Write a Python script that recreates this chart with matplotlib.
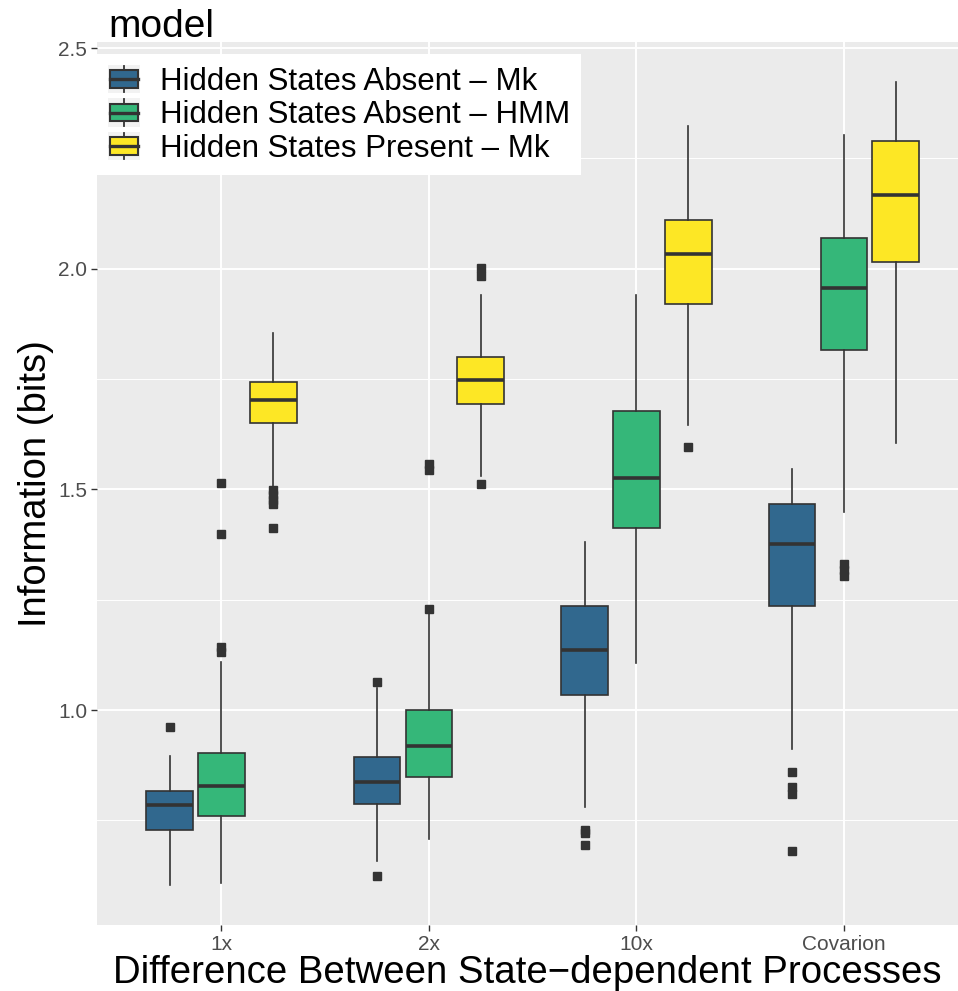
import matplotlib
matplotlib.use("Agg")
import matplotlib.pyplot as plt
from matplotlib.legend_handler import HandlerBase
from matplotlib.lines import Line2D
from matplotlib.patches import Patch, Rectangle
from matplotlib.ticker import MultipleLocator

plt.rcParams["font.family"] = ["Liberation Sans", "DejaVu Sans"]

categories = ["1x", "2x", "10x", "Covarion"]
models = [
    "Hidden States Absent \u2013 Mk",
    "Hidden States Absent \u2013 HMM",
    "Hidden States Present \u2013 Mk",
]
colors = ["#31688E", "#35B779", "#FDE725"]

# box statistics, one list per model (order = categories)
mk_whislo = [0.604, 0.657, 0.781, 0.911]
mk_q1 = [0.728, 0.788, 1.034, 1.237]
mk_med = [0.784, 0.838, 1.136, 1.376]
mk_q3 = [0.816, 0.894, 1.235, 1.467]
mk_whishi = [0.895, 1.050, 1.382, 1.547]
mk_fliers = [[0.962], [1.063, 0.623], [0.728, 0.722, 0.694], [0.860, 0.825, 0.810, 0.680]]

hmm_whislo = [0.609, 0.708, 1.106, 1.450]
hmm_q1 = [0.759, 0.849, 1.413, 1.817]
hmm_med = [0.827, 0.919, 1.527, 1.957]
hmm_q3 = [0.902, 1.000, 1.677, 2.069]
hmm_whishi = [1.108, 1.224, 1.940, 2.304]
hmm_fliers = [[1.131, 1.142, 1.399, 1.515], [1.229, 1.545, 1.558], [], [1.331, 1.318, 1.303]]

pres_whislo = [1.507, 1.531, 1.647, 1.605]
pres_q1 = [1.650, 1.693, 1.920, 2.015]
pres_med = [1.702, 1.747, 2.033, 2.167]
pres_q3 = [1.744, 1.801, 2.111, 2.289]
pres_whishi = [1.854, 1.940, 2.323, 2.423]
pres_fliers = [[1.498, 1.487, 1.476, 1.466, 1.412], [2.002, 1.983, 1.512], [1.597], []]

series = [
    (mk_whislo, mk_q1, mk_med, mk_q3, mk_whishi, mk_fliers),
    (hmm_whislo, hmm_q1, hmm_med, hmm_q3, hmm_whishi, hmm_fliers),
    (pres_whislo, pres_q1, pres_med, pres_q3, pres_whishi, pres_fliers),
]

EDGE = "#333333"


class BoxKeyHandler(HandlerBase):
    """ggplot-like boxplot legend key."""

    def create_artists(self, legend, orig_handle, xdescent, ydescent,
                       width, height, fontsize, trans):
        x0, y0 = -xdescent, -ydescent
        bg = Rectangle((x0, y0), width, height, facecolor="#F2F2F2",
                       edgecolor="none", transform=trans)
        cx = x0 + width / 2
        whisk = Line2D([cx, cx], [y0 + height * 0.03, y0 + height * 0.97],
                       color=EDGE, lw=1.3, transform=trans)
        bw, bh = width * 0.86, height * 0.62
        box = Rectangle((cx - bw / 2, y0 + (height - bh) / 2), bw, bh,
                        facecolor=orig_handle.get_facecolor(), edgecolor=EDGE,
                        lw=1.5, transform=trans)
        med = Line2D([cx - bw / 2, cx + bw / 2], [y0 + height / 2] * 2,
                     color=EDGE, lw=2.4, transform=trans)
        return [bg, whisk, box, med]


fig = plt.figure(figsize=(9.58, 9.91), dpi=100)
ax = fig.add_axes([97 / 958, 66 / 991, 861 / 958, 883 / 991])
ax.set_facecolor("#EBEBEB")

offsets = [-0.25, 0.0, 0.25]
for k, (wlo, q1, med, q3, whi, fl) in enumerate(series):
    stats = [
        dict(whislo=wlo[i], q1=q1[i], med=med[i], q3=q3[i], whishi=whi[i], fliers=fl[i])
        for i in range(len(categories))
    ]
    positions = [i + 1 + offsets[k] for i in range(len(categories))]
    ax.bxp(
        stats,
        positions=positions,
        widths=0.225,
        patch_artist=True,
        showcaps=False,
        boxprops=dict(facecolor=colors[k], edgecolor=EDGE, lw=1.2),
        medianprops=dict(color=EDGE, lw=2.6, solid_capstyle="butt"),
        whiskerprops=dict(color=EDGE, lw=1.2),
        flierprops=dict(marker="s", markersize=5.5, markerfacecolor=EDGE,
                        markeredgecolor=EDGE, linestyle="none"),
        manage_ticks=False,
        zorder=3,
    )

ax.set_xlim(0.4, 4.55)
ax.set_ylim(0.513, 2.514)
ax.set_xticks(range(1, len(categories) + 1))
ax.set_xticklabels(categories)
ax.yaxis.set_major_locator(MultipleLocator(0.5))
ax.yaxis.set_minor_locator(MultipleLocator(0.25))
ax.set_yticklabels(["%.1f" % v for v in ax.get_yticks()])

ax.grid(which="major", color="white", lw=1.4, zorder=0)
ax.grid(which="minor", axis="y", color="white", lw=0.7, zorder=0)
ax.set_axisbelow(True)
for s in ax.spines.values():
    s.set_visible(False)
ax.tick_params(which="major", length=4, width=1.0, color=EDGE,
               labelsize=15, labelcolor="#4D4D4D", pad=3)
ax.tick_params(which="minor", length=0)

ax.set_xlabel("Difference Between State\u2212dependent Processes", fontsize=27.6,
              labelpad=1)
ax.set_ylabel("Information (bits)", fontsize=27.5, labelpad=3)

handles = [Patch(facecolor=c, edgecolor=EDGE) for c in colors]
leg = fig.legend(
    handles,
    models,
    loc="upper left",
    bbox_to_anchor=(97 / 958, 1 - 54 / 991),
    handler_map={Patch: BoxKeyHandler()},
    fontsize=22.5,
    frameon=True,
    fancybox=False,
    facecolor="white",
    edgecolor="none",
    framealpha=1.0,
    handlelength=1.02,
    handleheight=1.02,
    handletextpad=0.64,
    labelspacing=0.05,
    borderpad=0.35,
    borderaxespad=0.0,
)
leg.set_zorder(10)
fig.text(108 / 958, 1 - 27 / 991, "model", fontsize=28, ha="left", va="center")

fig.savefig("out.png", dpi=100)
